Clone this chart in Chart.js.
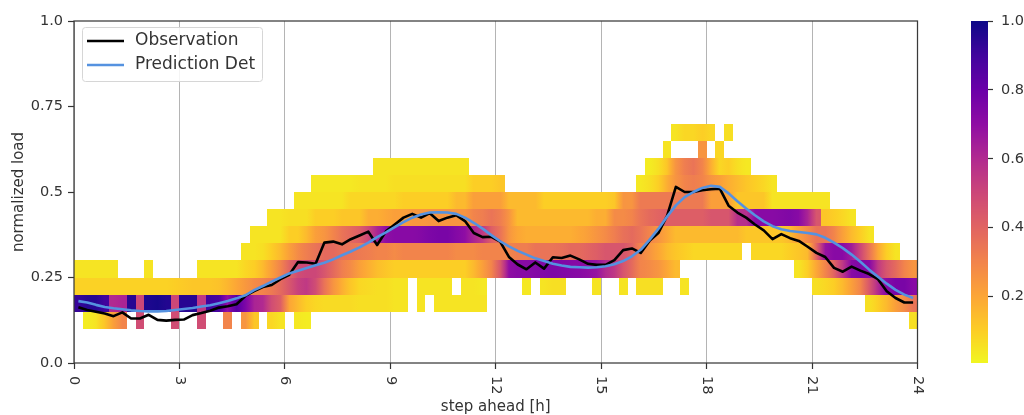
<!DOCTYPE html>
<html><head><meta charset="utf-8">
<script src="https://cdn.jsdelivr.net/npm/chart.js@4.4.1/dist/chart.umd.min.js"></script>
<style>
html,body{margin:0;padding:0;background:#fff;}
#wrap{position:relative;width:1024px;height:415px;overflow:hidden;}
#main{position:absolute;left:0;top:0;}
#cbar{position:absolute;left:940px;top:0;}
</style></head><body>
<div id="wrap"><canvas id="main" width="1024" height="415"></canvas><canvas id="cbar" width="84" height="415"></canvas></div>
<script>
const FONT = 'DejaVu Sans';
Chart.defaults.font.family = FONT;
Chart.defaults.color = '#333';

// ---- axis ticks ----
const xTickValues = [0, 3, 6, 9, 12, 15, 18, 21, 24];
const yTickValues = [0, 0.25, 0.5, 0.75, 1.0];
const colorbarTicks = [0.2, 0.4, 0.6, 0.8, 1.0];
const cellHours = 0.25;   // width of one heatmap column (h)
const binWidth = 0.05;    // height of one heatmap row (load)
const binLows = [0.10, 0.15, 0.20, 0.25, 0.30, 0.35, 0.40, 0.45, 0.50, 0.55, 0.60, 0.65];

// ---- lines (one value per 15-min step) ----
const observation = [
 0.163,0.155,0.150,0.145, 0.137,0.148,0.130,0.130, 0.141,0.126,0.124,0.126,
 0.127,0.140,0.146,0.153, 0.162,0.166,0.172,0.196, 0.210,0.222,0.228,0.245,
 0.258,0.295,0.294,0.290, 0.352,0.355,0.347,0.362, 0.373,0.384,0.345,0.385,
 0.405,0.425,0.436,0.425, 0.438,0.415,0.425,0.432, 0.415,0.380,0.368,0.369,
 0.355,0.310,0.288,0.274, 0.294,0.276,0.309,0.307, 0.314,0.303,0.290,0.287,
 0.287,0.301,0.330,0.335, 0.322,0.357,0.380,0.430, 0.515,0.500,0.500,0.505,
 0.508,0.510,0.460,0.440, 0.425,0.405,0.388,0.362, 0.377,0.365,0.357,0.340,
 0.322,0.310,0.278,0.267, 0.282,0.270,0.260,0.245, 0.210,0.190,0.177,0.177
];
const prediction = [
 0.181,0.177,0.170,0.164, 0.160,0.157,0.154,0.152, 0.151,0.151,0.152,0.155,
 0.158,0.161,0.165,0.169, 0.175,0.181,0.189,0.198, 0.213,0.225,0.238,0.250,
 0.262,0.270,0.278,0.286, 0.293,0.303,0.315,0.326, 0.338,0.352,0.368,0.382,
 0.397,0.412,0.425,0.434, 0.440,0.441,0.440,0.436, 0.425,0.410,0.393,0.374,
 0.356,0.341,0.328,0.317, 0.306,0.298,0.290,0.285, 0.281,0.280,0.279,0.280,
 0.283,0.289,0.298,0.312, 0.331,0.360,0.392,0.428, 0.461,0.485,0.500,0.512,
 0.518,0.515,0.496,0.473, 0.452,0.432,0.414,0.400, 0.391,0.386,0.383,0.380,
 0.376,0.366,0.352,0.336, 0.317,0.296,0.273,0.252, 0.232,0.214,0.200,0.190
];

// ---- heatmap rows: density in percent per 15-min column, 0 = empty ----
const heat010 = [
 0,3,5,12, 22,30,0,48, 0,0,0,48, 0,0,48,0,
 0,30,0,25, 12,0,8,5, 0,4,3,0, 0,0,0,0,
 0,0,0,0, 0,0,0,0, 0,0,0,0, 0,0,0,0,
 0,0,0,0, 0,0,0,0, 0,0,0,0, 0,0,0,0,
 0,0,0,0, 0,0,0,0, 0,0,0,0, 0,0,0,0,
 0,0,0,0, 0,0,0,0, 0,0,0,0, 0,0,0,6];
const heat015 = [
 92,95,95,90, 60,62,95,50, 97,98,96,50, 95,95,55,90,
 88,70,85,75, 62,60,48,42, 20,15,10,8, 7,7,7,7,
 6,6,6,6, 5,5,0,5, 0,5,5,5, 5,5,5,0,
 0,0,0,0, 0,0,0,0, 0,0,0,0, 0,0,0,0,
 0,0,0,0, 0,0,0,0, 0,0,0,0, 0,0,0,0,
 0,0,0,0, 0,0,0,0, 0,0,6,10, 15,22,28,35];
const heat020 = [
 9,9,9,9, 9,9,9,9, 9,9,9,10, 11,12,12,12,
 13,16,20,24, 28,30,33,38, 45,52,55,48, 35,25,18,12,
 8,7,6,6, 5,5,0,5, 5,5,5,0, 5,5,4,0,
 0,0,0,4, 0,5,6,6, 0,0,0,5, 0,0,5,0,
 6,6,6,0, 0,5,0,0, 0,0,0,0, 0,0,0,0,
 0,0,0,0, 6,8,10,15, 22,30,45,60, 72,76,76,72];
const heat025 = [
 5,5,5,5, 5,0,0,0, 5,0,0,0, 0,0,5,5,
 5,5,5,8, 10,15,22,30, 40,48,50,50, 45,38,32,28,
 22,18,14,12, 10,10,10,10, 10,10,10,10, 10,15,22,30,
 45,70,72,72, 73,74,75,74, 73,72,70,68, 60,55,45,38,
 30,28,25,20, 15,0,0,0, 0,0,0,0, 0,0,0,0,
 0,0,5,10, 20,30,40,55, 72,75,72,55, 45,38,30,25];
const heat030 = [
 0,0,0,0, 0,0,0,0, 0,0,0,0, 0,0,0,0,
 0,0,0,5, 5,6,10,15, 22,28,32,35, 38,38,36,35,
 33,32,30,30, 28,30,30,30, 30,30,30,28, 28,28,30,30,
 30,30,32,32, 35,35,35,36, 38,38,40,42, 45,45,45,40,
 30,25,20,15, 12,10,8,8, 8,8,8,8, 0,8,8,8,
 8,10,12,15, 40,68,72,72, 65,50,35,20, 10,5,0,0];
const heat035 = [
 0,0,0,0, 0,0,0,0, 0,0,0,0, 0,0,0,0,
 0,0,0,0, 5,5,5,5, 10,10,15,22, 25,30,35,38,
 42,50,62,70, 72,72,72,73, 75,76,76,73, 70,62,55,42,
 35,25,20,18, 18,18,18,18, 18,20,22,25, 28,32,36,38,
 35,30,25,20, 15,15,15,15, 15,15,15,15, 12,12,12,12,
 12,15,22,28, 35,35,30,22, 15,10,5,0, 0,0,0,0];
const heat040 = [
 0,0,0,0, 0,0,0,0, 0,0,0,0, 0,0,0,0,
 0,0,0,0, 0,0,5,5, 6,6,6,10, 10,10,12,12,
 12,18,18,20, 22,22,24,24, 25,25,25,25, 25,30,32,35,
 32,25,15,15, 15,15,15,15, 15,15,15,18, 18,28,28,30,
 35,38,40,42, 42,42,42,42, 45,45,45,58, 58,72,72,72,
 73,74,72,62, 45,12,10,8, 5,0,0,0, 0,0,0,0];
const heat045 = [
 0,0,0,0, 0,0,0,0, 0,0,0,0, 0,0,0,0,
 0,0,0,0, 0,0,0,0, 0,5,5,5, 5,5,5,8,
 8,8,8,8, 8,10,10,10, 10,10,10,15, 15,22,22,22,
 22,15,15,15, 15,10,10,10, 10,10,10,10, 10,12,25,25,
 33,33,33,33, 33,33,33,33, 22,22,22,12, 12,12,12,5,
 5,5,5,5, 5,5,0,0, 0,0,0,0, 0,0,0,0];
const heat050 = [
 0,0,0,0, 0,0,0,0, 0,0,0,0, 0,0,0,0,
 0,0,0,0, 0,0,0,0, 0,0,0,4, 4,4,4,4,
 5,5,5,5, 6,6,6,6, 6,6,6,6, 6,10,10,10,
 12,0,0,0, 0,0,0,0, 0,0,0,0, 0,0,0,0,
 4,6,10,18, 25,30,32,30, 25,22,18,15, 12,10,8,5,
 0,0,0,0, 0,0,0,0, 0,0,0,0, 0,0,0,0];
const heat055 = [
 0,0,0,0, 0,0,0,0, 0,0,0,0, 0,0,0,0,
 0,0,0,0, 0,0,0,0, 0,0,0,0, 0,0,0,0,
 0,0,5,5, 5,5,5,5, 5,5,5,5, 5,0,0,0,
 0,0,0,0, 0,0,0,0, 0,0,0,0, 0,0,0,0,
 0,3,6,12, 25,32,35,30, 18,8,10,6, 4,0,0,0,
 0,0,0,0, 0,0,0,0, 0,0,0,0, 0,0,0,0];
const heat060 = [
 0,0,0,0, 0,0,0,0, 0,0,0,0, 0,0,0,0,
 0,0,0,0, 0,0,0,0, 0,0,0,0, 0,0,0,0,
 0,0,0,0, 0,0,0,0, 0,0,0,0, 0,0,0,0,
 0,0,0,0, 0,0,0,0, 0,0,0,0, 0,0,0,0,
 0,0,0,5, 0,0,0,25, 0,8,0,0, 0,0,0,0,
 0,0,0,0, 0,0,0,0, 0,0,0,0, 0,0,0,0];
const heat065 = [
 0,0,0,0, 0,0,0,0, 0,0,0,0, 0,0,0,0,
 0,0,0,0, 0,0,0,0, 0,0,0,0, 0,0,0,0,
 0,0,0,0, 0,0,0,0, 0,0,0,0, 0,0,0,0,
 0,0,0,0, 0,0,0,0, 0,0,0,0, 0,0,0,0,
 0,0,0,0, 5,8,8,10, 8,0,6,0, 0,0,0,0,
 0,0,0,0, 0,0,0,0, 0,0,0,0, 0,0,0,0];
const heatRows = [heat010, heat015, heat020, heat025, heat030, heat035,
                  heat040, heat045, heat050, heat055, heat060, heat065];

const labels = {obs: 'Observation', pred: 'Prediction Det', x: 'step ahead [h]', y: 'normalized load'};
const obsColor = '#000000';
const predColor = '#5592e0';

// plasma colormap (reversed: 0 -> yellow, 1 -> dark blue)
const PLASMA = [[13,8,135],[65,4,157],[106,0,168],[143,13,164],[177,42,144],[204,71,120],
                [225,100,98],[242,132,75],[252,166,54],[252,206,37],[240,249,33]];
function plasmaR(v) {
  const t = 1 - Math.min(1, Math.max(0, v));
  const f = t * 10;
  const i = Math.min(9, Math.floor(f));
  const u = f - i;
  const a = PLASMA[i], b = PLASMA[i + 1];
  const c = a.map((av, k) => Math.round(av + (b[k] - av) * u));
  return `rgb(${c[0]},${c[1]},${c[2]})`;
}

const stepCenters = observation.map((_, i) => (i + 0.5) * cellHours);

// each cell is shaded with a soft horizontal blend toward similar occupied neighbours
const BLEND_LIMIT = 28;
const heatPlugin = {
  id: 'heat',
  beforeDatasetsDraw(chart) {
    const {ctx, chartArea: ca, scales: {x, y}} = chart;
    ctx.save();
    ctx.beginPath(); ctx.rect(ca.left, ca.top, ca.width, ca.height); ctx.clip();
    heatRows.forEach((row, r) => {
      const y0 = Math.round(y.getPixelForValue(binLows[r] + binWidth));
      const y1 = Math.round(y.getPixelForValue(binLows[r]));
      row.forEach((p, c) => {
        if (!p) return;
        const x0 = Math.round(x.getPixelForValue(c * cellHours));
        const x1 = Math.round(x.getPixelForValue((c + 1) * cellHours));
        const prev = row[c - 1], next = row[c + 1];
        const vl = prev && Math.abs(prev - p) <= BLEND_LIMIT ? (p + prev) / 2 : p;
        const vr = next && Math.abs(next - p) <= BLEND_LIMIT ? (p + next) / 2 : p;
        const g = ctx.createLinearGradient(x0, 0, x1, 0);
        g.addColorStop(0, plasmaR(vl / 100));
        g.addColorStop(0.5, plasmaR(p / 100));
        g.addColorStop(1, plasmaR(vr / 100));
        ctx.fillStyle = g;
        ctx.fillRect(x0, y0, x1 - x0, y1 - y0);
      });
    });
    ctx.restore();
  }
};

const decorPlugin = {
  id: 'decor',
  afterDraw(chart) {
    const {ctx, chartArea: ca, scales: {x}} = chart;
    ctx.save();
    // spines
    ctx.strokeStyle = '#3a3a3a';
    ctx.lineWidth = 1.25;
    ctx.strokeRect(ca.left, ca.top, ca.right - ca.left, ca.bottom - ca.top);
    // x tick labels, rotated clockwise
    ctx.fillStyle = '#333';
    ctx.font = `14.5px "${FONT}"`;
    xTickValues.forEach(v => {
      const px = x.getPixelForValue(v);
      ctx.save();
      ctx.translate(px, ca.bottom + 13);
      ctx.rotate(Math.PI / 2);
      ctx.textAlign = 'left';
      ctx.textBaseline = 'middle';
      ctx.fillText(String(v), 0, 0);
      ctx.restore();
    });
    // axis titles
    ctx.font = `15px "${FONT}"`;
    ctx.textAlign = 'center';
    ctx.textBaseline = 'alphabetic';
    ctx.fillText(labels.x, (ca.left + ca.right) / 2, 411);
    ctx.save();
    ctx.translate(23, (ca.top + ca.bottom) / 2);
    ctx.rotate(-Math.PI / 2);
    ctx.fillText(labels.y, 0, 0);
    ctx.restore();
    // legend
    const lx = 82.5, ly = 27.5, lw = 180, lh = 54, rad = 3;
    ctx.beginPath();
    ctx.moveTo(lx + rad, ly);
    ctx.lineTo(lx + lw - rad, ly); ctx.arcTo(lx + lw, ly, lx + lw, ly + rad, rad);
    ctx.lineTo(lx + lw, ly + lh - rad); ctx.arcTo(lx + lw, ly + lh, lx + lw - rad, ly + lh, rad);
    ctx.lineTo(lx + rad, ly + lh); ctx.arcTo(lx, ly + lh, lx, ly + lh - rad, rad);
    ctx.lineTo(lx, ly + rad); ctx.arcTo(lx, ly, lx + rad, ly, rad);
    ctx.closePath();
    ctx.fillStyle = 'rgba(255,255,255,0.85)';
    ctx.fill();
    ctx.strokeStyle = '#d6d6d6';
    ctx.lineWidth = 1;
    ctx.stroke();
    const items = [[labels.obs, obsColor], [labels.pred, predColor]];
    ctx.font = `17px "${FONT}"`;
    ctx.textAlign = 'left';
    ctx.textBaseline = 'middle';
    items.forEach(([t, col], k) => {
      const yy = 41 + k * 24;
      ctx.strokeStyle = col;
      ctx.lineWidth = 2.5;
      ctx.beginPath(); ctx.moveTo(87, yy); ctx.lineTo(124, yy); ctx.stroke();
      ctx.fillStyle = '#333';
      ctx.fillText(t, 135, yy);
    });
    ctx.restore();
  }
};

new Chart(document.getElementById('main'), {
  type: 'line',
  data: {
    datasets: [
      {label: labels.obs, data: stepCenters.map((t, i) => ({x: t, y: observation[i]})),
       borderColor: obsColor, borderWidth: 2.6, pointRadius: 0, tension: 0, order: 1,
       borderJoinStyle: 'round'},
      {label: labels.pred, data: stepCenters.map((t, i) => ({x: t, y: prediction[i]})),
       borderColor: predColor, borderWidth: 2.6, pointRadius: 0, tension: 0, order: 0,
       borderJoinStyle: 'round'}
    ]
  },
  options: {
    responsive: false, animation: false, events: [],
    layout: {padding: {top: 21, right: 106.5, left: 0, bottom: 0}},
    plugins: {legend: {display: false}, tooltip: {enabled: false}},
    scales: {
      x: {
        type: 'linear', min: 0, max: 24,
        afterBuildTicks: s => { s.ticks = xTickValues.map(v => ({value: v})); },
        afterFit: s => { s.height = 52; },
        ticks: {display: false},
        grid: {color: '#b4b4b4', lineWidth: 1, drawTicks: true, tickLength: 6, tickColor: '#333', tickWidth: 1.2},
        border: {display: false}
      },
      y: {
        type: 'linear', min: 0, max: 1,
        afterBuildTicks: s => { s.ticks = yTickValues.map(v => ({value: v})); },
        afterFit: s => { s.width = 74; },
        ticks: {padding: 5, color: '#333', font: {family: FONT, size: 14.5},
                callback: v => (v === 0 ? '0.0' : v === 1 ? '1.0' : String(v))},
        grid: {drawOnChartArea: false, drawTicks: true, tickLength: 6, tickColor: '#333', tickWidth: 1.2},
        border: {display: false}
      }
    }
  },
  plugins: [heatPlugin, decorPlugin]
});

// ---- colorbar ----
const cbarPlugin = {
  id: 'cbarFill',
  beforeDatasetsDraw(chart) {
    const {ctx, chartArea: ca, scales: {y}} = chart;
    ctx.save();
    for (let py = Math.round(ca.top); py < Math.round(ca.bottom); py++) {
      ctx.fillStyle = plasmaR(y.getValueForPixel(py + 0.5));
      ctx.fillRect(ca.left, py, ca.right - ca.left, 1);
    }
    ctx.restore();
  }
};
new Chart(document.getElementById('cbar'), {
  type: 'scatter',
  data: {datasets: []},
  options: {
    responsive: false, animation: false, events: [],
    layout: {padding: {left: 31, top: 21, bottom: 52, right: 0}},
    plugins: {legend: {display: false}, tooltip: {enabled: false}},
    scales: {
      x: {display: false, min: 0, max: 1},
      y: {
        position: 'right', min: 0.007, max: 1.0,
        afterBuildTicks: s => { s.ticks = colorbarTicks.map(v => ({value: v})); },
        afterFit: s => { s.width = 36; },
        ticks: {padding: 8, color: '#333', font: {family: FONT, size: 14.5}, callback: v => v.toFixed(1)},
        grid: {drawOnChartArea: false, drawTicks: true, tickLength: 5, tickColor: '#333', tickWidth: 1.2},
        border: {display: false}
      }
    }
  },
  plugins: [cbarPlugin]
});
</script>
</body></html>
